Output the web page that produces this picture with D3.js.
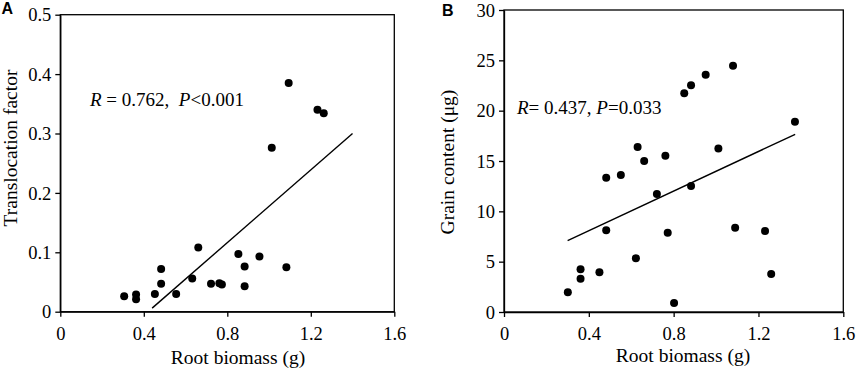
<!DOCTYPE html>
<html>
<head>
<meta charset="utf-8">
<script src="https://cdn.jsdelivr.net/npm/d3@7"></script>
<style>
  body { margin: 0; background: #fff; }
  svg { display: block; }
  .axis path, .axis line { stroke: #000; stroke-width: 1.3px; }
</style>
</head>
<body>
<div id="chart-area"></div>
<script>
const W = 858, H = 371
const SERIF = "'Liberation Serif', 'Times New Roman', Times, serif"

// Panel A: root biomass (g) vs translocation factor
const rootA = [0.306, 0.363, 0.363, 0.453, 0.483, 0.483, 0.555, 0.632, 0.661, 0.722, 0.762,
  0.774, 0.853, 0.883, 0.883, 0.954, 1.013, 1.083, 1.094, 1.232, 1.262]
const tfA = [0.026, 0.029, 0.021, 0.030, 0.047, 0.072, 0.030, 0.056, 0.108, 0.047, 0.048,
  0.046, 0.097, 0.076, 0.043, 0.093, 0.276, 0.075, 0.385, 0.340, 0.334]
const fitA = [[0.44, 0.006], [1.40, 0.300]]

// Panel B: root biomass (g) vs grain content (ug)
const rootB = [0.301, 0.361, 0.361, 0.450, 0.482, 0.482, 0.551, 0.622, 0.630, 0.661, 0.721, 0.761,
  0.772, 0.802, 0.850, 0.882, 0.882, 0.951, 1.011, 1.080, 1.090, 1.231, 1.260, 1.372]
const grainB = [1.95, 4.24, 3.31, 3.94, 13.34, 8.11, 13.61, 5.33, 16.39, 15.0, 11.72, 15.53,
  7.88, 0.89, 21.72, 22.52, 12.52, 23.58, 16.23, 24.47, 8.38, 8.05, 3.77, 18.91]
const fitB = [[0.30, 7.08], [1.373, 17.65]]

const xTicks = [0, 0.4, 0.8, 1.2, 1.6]
const xTickLabels = ["0", "0.4", "0.8", "1.2", "1.6"]
const yTicksA = [0, 0.1, 0.2, 0.3, 0.4, 0.5]
const yTickLabelsA = ["0", "0.1", "0.2", "0.3", "0.4", "0.5"]
const yTicksB = [0, 5, 10, 15, 20, 25, 30]
const yTickLabelsB = ["0", "5", "10", "15", "20", "25", "30"]

const svg = d3.select("#chart-area").append("svg")
  .attr("width", W)
  .attr("height", H)

svg.append("rect").attr("width", W).attr("height", H).attr("fill", "#fff")

function drawPanel(p) {
  const x = d3.scaleLinear().domain([0, 1.6]).range([p.left, p.right])
  const y = d3.scaleLinear().domain([0, p.yMax]).range([p.bottom, p.top])

  // x axis
  svg.append("g")
    .attr("class", "axis")
    .attr("transform", `translate(0, ${p.bottom})`)
    .call(d3.axisBottom(x).tickValues(xTicks)
      .tickFormat((d, i) => xTickLabels[i])
      .tickSizeInner(5).tickSizeOuter(0).tickPadding(10))
    .attr("font-family", SERIF).attr("font-size", 18.5)
    .selectAll("text").attr("fill", "#000")

  // y axis
  svg.append("g")
    .attr("class", "axis")
    .attr("transform", `translate(${p.left}, 0)`)
    .call(d3.axisLeft(y).tickValues(p.yTicks)
      .tickFormat((d, i) => p.yTickLabels[i])
      .tickSizeInner(5).tickSizeOuter(0).tickPadding(4))
    .attr("font-family", SERIF).attr("font-size", 18.5)
    .selectAll("text").attr("dy", "0.34em").attr("fill", "#000")

  // frame
  svg.append("rect")
    .attr("x", p.left).attr("y", p.top)
    .attr("width", p.right - p.left).attr("height", p.bottom - p.top)
    .attr("fill", "none").attr("stroke", "#000").attr("stroke-width", 1.3)

  // fit line
  svg.append("line")
    .attr("x1", x(p.fit[0][0])).attr("y1", y(p.fit[0][1]))
    .attr("x2", x(p.fit[1][0])).attr("y2", y(p.fit[1][1]))
    .attr("stroke", "#000").attr("stroke-width", 1.4)

  // points
  svg.append("g").selectAll("circle")
    .data(p.xs.map((d, i) => [d, p.ys[i]]))
    .enter().append("circle")
    .attr("cx", d => x(d[0]))
    .attr("cy", d => y(d[1]))
    .attr("r", 4)
    .attr("fill", "#000")

  // axis labels
  svg.append("text")
    .attr("font-family", SERIF).attr("font-size", 19.5)
    .attr("x", p.xLabelX).attr("y", p.xLabelY)
    .attr("text-anchor", "middle")
    .text("Root biomass (g)")

  svg.append("text")
    .attr("font-family", SERIF).attr("font-size", 19.5)
    .attr("transform", `translate(${p.yLabelX}, ${p.yLabelY}) rotate(-90)`)
    .attr("text-anchor", "middle")
    .text(p.yLabel)

  // stats annotation
  const ann = svg.append("text")
    .attr("font-family", SERIF).attr("font-size", 19)
    .attr("x", p.annX).attr("y", p.annY)
  p.ann.forEach(s => {
    ann.append("tspan")
      .attr("font-style", s.italic ? "italic" : "normal")
      .attr("xml:space", "preserve")
      .text(s.t)
  })

  // panel letter
  svg.append("text")
    .attr("font-family", "'Liberation Sans', Arial, sans-serif")
    .attr("font-size", 16).attr("font-weight", "bold")
    .attr("x", p.letterX).attr("y", p.letterY)
    .text(p.letter)
}

drawPanel({
  left: 60.3, right: 394.3, top: 14.7, bottom: 311.7,
  yMax: 0.5, yTicks: yTicksA, yTickLabels: yTickLabelsA,
  xs: rootA, ys: tfA, fit: fitA,
  xLabelX: 238, xLabelY: 364,
  yLabel: "Translocation factor", yLabelX: 16.5, yLabelY: 148,
  ann: [{ t: "R", italic: true }, { t: " = 0.762,  " }, { t: "P", italic: true }, { t: "<0.001" }],
  annX: 90, annY: 106,
  letter: "A", letterX: 1.5, letterY: 14
})

drawPanel({
  left: 504, right: 843.3, top: 10, bottom: 312,
  yMax: 30, yTicks: yTicksB, yTickLabels: yTickLabelsB,
  xs: rootB, ys: grainB, fit: fitB,
  xLabelX: 683, xLabelY: 362,
  yLabel: "Grain content (μg)", yLabelX: 454, yLabelY: 162,
  ann: [{ t: "R", italic: true }, { t: "= 0.437, " }, { t: "P", italic: true }, { t: "=0.033" }],
  annX: 517, annY: 114,
  letter: "B", letterX: 442, letterY: 15.5
})
</script>
</body>
</html>
